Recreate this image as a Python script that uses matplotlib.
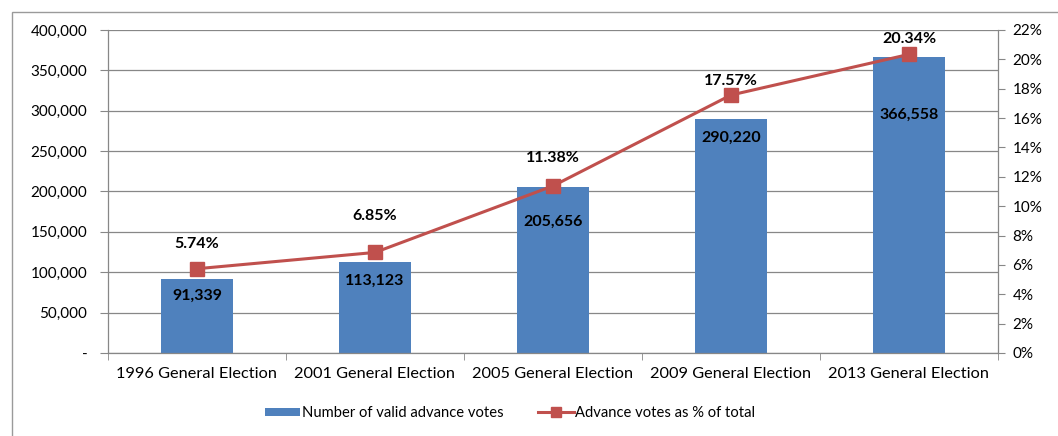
import matplotlib
matplotlib.use("Agg")
import matplotlib.pyplot as plt
from matplotlib.ticker import FuncFormatter, FixedLocator
from matplotlib.patches import Rectangle

categories = ["1996 General Election", "2001 General Election", "2005 General Election",
              "2009 General Election", "2013 General Election"]
votes = [91339, 113123, 205656, 290220, 366558]
pct = [5.74, 6.85, 11.38, 17.57, 20.34]

bar_label_off = [-17, -19, -35, -19, -58]   # pixels from bar top
pct_label_off = [25, 36, 28, 14, 15]        # pixels above marker

plt.rcParams['font.family'] = ['Lato', 'DejaVu Sans']
BAR = '#4F81BD'
LINE = '#C0504D'
GRID = '#878787'

fig = plt.figure(figsize=(10.58, 4.36), dpi=100)
ax = fig.add_axes([108/1058, 1-353/436, (998-108)/1058, (353-30)/436])
ax2 = ax.twinx()

x = list(range(len(categories)))
ax.bar(x, votes, width=0.4, color=BAR, zorder=2, label="Number of valid advance votes")
ax.set_xlim(-0.5, 4.5)
ax.set_ylim(0, 400000)
ax.set_yticks(range(0, 400001, 50000))
ax.yaxis.set_major_formatter(FuncFormatter(lambda v, p: '-' if v == 0 else f"{int(v):,}"))
ax.grid(axis='y', color=GRID, lw=0.9, zorder=0)
ax.set_axisbelow(True)
ax.set_xticks(x)
ax.set_xticklabels(categories)
ax.xaxis.set_minor_locator(FixedLocator([i + 0.5 for i in range(-1, 5)]))
ax.tick_params(axis='x', which='major', length=0, pad=10, labelsize=11.8)
ax.tick_params(axis='x', which='minor', length=5, color=GRID, direction='out')
ax.tick_params(axis='y', length=5.8, color=GRID, labelsize=11, pad=9)

ax2.plot(x, pct, color=LINE, lw=2.2, marker='s', ms=9.5, zorder=3, label="Advance votes as % of total")
ax2.set_ylim(0, 22)
ax2.set_yticks(range(0, 23, 2))
ax2.yaxis.set_major_formatter(FuncFormatter(lambda v, p: f"{int(v)}%"))
ax2.tick_params(axis='y', length=5, color=GRID, labelsize=11, pad=5.5)

for a in (ax, ax2):
    for s in a.spines.values():
        s.set_visible(False)
    a.spines['left'].set_visible(a is ax)
    a.spines['right'].set_visible(a is ax2)
    a.spines['bottom'].set_visible(a is ax)
    for s in ('left', 'right', 'bottom'):
        a.spines[s].set_color(GRID)
        a.spines[s].set_linewidth(0.9)

for i, v in enumerate(votes):
    ax.annotate(f"{v:,}", (i, v), xytext=(0, bar_label_off[i]), textcoords='offset pixels',
                ha='center', va='center', fontsize=11.5, fontweight='bold', zorder=5)
for i, p in enumerate(pct):
    ax2.annotate(f"{p:.2f}%", (i, p), xytext=(0, pct_label_off[i]), textcoords='offset pixels',
                 ha='center', va='center', fontsize=11.5, fontweight='bold', zorder=5)

h1, l1 = ax.get_legend_handles_labels()
h2, l2 = ax2.get_legend_handles_labels()
fig.legend(h1 + h2, l1 + l2, loc='center', bbox_to_anchor=(510/1058, 1-413/436), ncol=2,
           frameon=False, fontsize=10.6, handlelength=2.4, handleheight=0.5,
           handletextpad=0.1, columnspacing=2.4, markerscale=0.75)

fig.patches.append(Rectangle((12/1058, -0.1), 1.2, 1 - 12/436 + 0.1, transform=fig.transFigure,
                             fill=False, edgecolor='#9a9a9a', lw=1.0))

fig.savefig("out.png", dpi=100)
